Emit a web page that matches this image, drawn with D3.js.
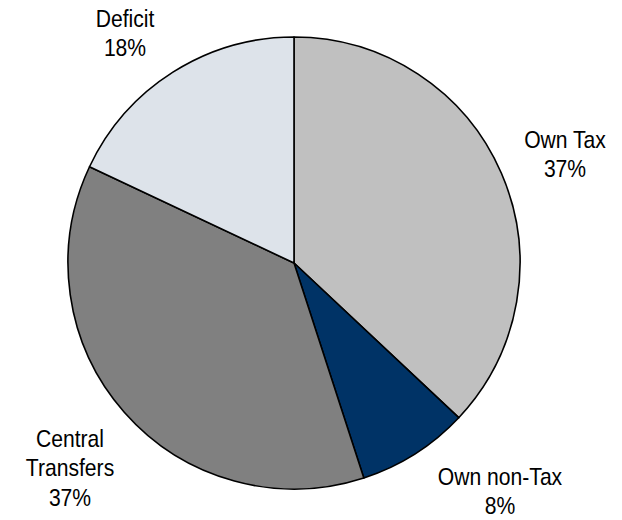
<!DOCTYPE html>
<html>
<head>
<meta charset="utf-8">
<script src="https://cdn.jsdelivr.net/npm/d3@7"></script>
<style>
  html, body { margin: 0; padding: 0; background: #fff; }
  svg { display: block; }
  text { font-family: "Liberation Sans", Arial, sans-serif; fill: #000; }
</style>
</head>
<body>
<svg id="chart" width="622" height="520"></svg>
<script>
// Revenue sources (share of total, %)
const categories = ["Own Tax", "Own non-Tax", "Central Transfers", "Deficit"];
const values = [37, 8, 37, 18];
const labelLines = [["Own Tax", "37%"], ["Own non-Tax", "8%"], ["Central", "Transfers", "37%"], ["Deficit", "18%"]];

// Slice colours and label anchors (centre x, first baseline y)
const colors = ["#c0c0c0", "#003366", "#808080", "#dde3ea"];
const labelAnchors = [[565, 148], [500, 485], [70, 447], [125, 27]];

const width = 622, height = 520;
const cx = 294, cy = 263, radius = 226;
const lineGap = 29.3;

const svg = d3.select("#chart");

const pie = d3.pie().sort(null).value(d => d.value);
const arc = d3.arc().innerRadius(0).outerRadius(radius);

const data = categories.map((c, i) => ({ name: c, value: values[i], color: colors[i] }));

const g = svg.append("g").attr("transform", `translate(${cx},${cy})`);

g.selectAll("path")
  .data(pie(data))
  .join("path")
  .attr("d", arc)
  .attr("fill", d => d.data.color)
  .attr("stroke", "#000")
  .attr("stroke-width", 1.6)
  .attr("stroke-linejoin", "round");

// Labels: narrow sans text, centred on each anchor
const labels = svg.selectAll("g.label")
  .data(categories.map((c, i) => ({ lines: labelLines[i], pos: labelAnchors[i] })))
  .join("g")
  .attr("class", "label")
  .attr("transform", d => `translate(${d.pos[0]},${d.pos[1]}) scale(0.88,1)`);

labels.append("text")
  .attr("text-anchor", "middle")
  .attr("font-size", 24)
  .selectAll("tspan")
  .data(d => d.lines)
  .join("tspan")
  .attr("x", 0)
  .attr("y", (d, i) => i * lineGap)
  .text(d => d);
</script>
</body>
</html>
